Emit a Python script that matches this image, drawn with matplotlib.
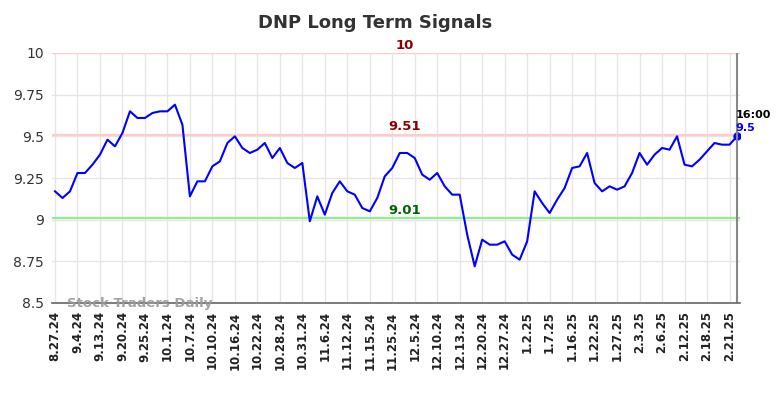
import matplotlib
matplotlib.use("Agg")
from matplotlib import pyplot as plt

# signal data, one value per sampled session
values = [9.17, 9.13, 9.17, 9.28, 9.28, 9.33, 9.39, 9.48, 9.44, 9.52,
          9.65, 9.61, 9.61, 9.64, 9.65, 9.65, 9.69, 9.57, 9.14, 9.23,
          9.23, 9.32, 9.35, 9.46, 9.50, 9.43, 9.40, 9.42, 9.46, 9.37,
          9.43, 9.34, 9.31, 9.34, 8.99, 9.14, 9.03, 9.16, 9.23, 9.17,
          9.15, 9.07, 9.05, 9.13, 9.26, 9.31, 9.40, 9.40, 9.37, 9.27,
          9.24, 9.28, 9.20, 9.15, 9.15, 8.91, 8.72, 8.88, 8.85, 8.85,
          8.87, 8.79, 8.76, 8.87, 9.17, 9.10, 9.04, 9.12, 9.19, 9.31,
          9.32, 9.40, 9.22, 9.17, 9.20, 9.18, 9.20, 9.28, 9.40, 9.33,
          9.39, 9.43, 9.42, 9.50, 9.33, 9.32, 9.36, 9.41, 9.46, 9.45,
          9.45, 9.50]
tick_labels = ['8.27.24', '9.4.24', '9.13.24', '9.20.24', '9.25.24', '10.1.24',
               '10.7.24', '10.10.24', '10.16.24', '10.22.24', '10.28.24',
               '10.31.24', '11.6.24', '11.12.24', '11.15.24', '11.25.24',
               '12.5.24', '12.10.24', '12.13.24', '12.20.24', '12.27.24',
               '1.2.25', '1.7.25', '1.16.25', '1.22.25', '1.27.25', '2.3.25',
               '2.6.25', '2.12.25', '2.18.25', '2.21.25']
resistance_hi = 10
resistance = 9.51
support = 9.01
last_time = '16:00'
last_value = 9.5

x = list(range(len(values)))
ticks = x[::3]

fig = plt.figure(figsize=(7.84, 3.98), dpi=100)
ax = fig.add_axes([52 / 784, 95 / 398, 688 / 784, 250 / 398])

ax.set_xlim(-0.4, len(values) - 1 + 0.4)
ax.set_ylim(8.5, 10)
ax.set_xticks(ticks)
ax.set_xticklabels(tick_labels, rotation=90, fontsize=8.5, fontweight='bold', color='#222')
ax.set_yticks([8.5, 8.75, 9, 9.25, 9.5, 9.75, 10])
ax.set_yticklabels(['8.5', '8.75', '9', '9.25', '9.5', '9.75', '10'], fontsize=10, color='#333')
ax.tick_params(length=0, pad=6)
ax.grid(True, color='#e6e6e6', linewidth=1)
ax.set_axisbelow(True)
for s in ['top', 'right', 'left']:
    ax.spines[s].set_visible(False)
ax.spines['bottom'].set_color('#666')
ax.spines['bottom'].set_linewidth(1.2)

# signal levels
ax.axhline(resistance_hi, color='#ffcccc', linewidth=1.6)
ax.axhline(resistance, color='#ffcccc', linewidth=1.6)
ax.axhline(support, color='#90ee90', linewidth=1.6)
mid = 46.7
ax.text(mid, resistance_hi + 0.008, '10', color='#8b0000', fontsize=9.5, fontweight='bold', ha='center', va='bottom')
ax.text(mid, resistance + 0.008, '9.51', color='#8b0000', fontsize=9.5, fontweight='bold', ha='center', va='bottom')
ax.text(mid, support + 0.008, '9.01', color='#006400', fontsize=9.5, fontweight='bold', ha='center', va='bottom')

ax.plot(x, values, color='#0000ff', linewidth=1.5)
ax.plot(x[-1], values[-1], 'o', color='#0000ff', markersize=5)
ax.axvline(x[-1], color='#888', linewidth=1.5)
ax.text(x[-1] - 0.2, last_value + 0.1, last_time, fontsize=8, fontweight='bold', color='black', ha='left', va='bottom')
ax.text(x[-1] - 0.2, last_value + 0.02, str(last_value), fontsize=8, fontweight='bold', color='#0000ff', ha='left', va='bottom')

ax.text(1.6, 8.5, 'Stock Traders Daily', fontsize=9.5, fontweight='bold', color='#999', ha='left', va='center', alpha=0.9)

fig.suptitle('DNP Long Term Signals', x=0.478, y=0.965, fontsize=13, fontweight='bold', color='#333')

plt.savefig('out.png', dpi=100)
